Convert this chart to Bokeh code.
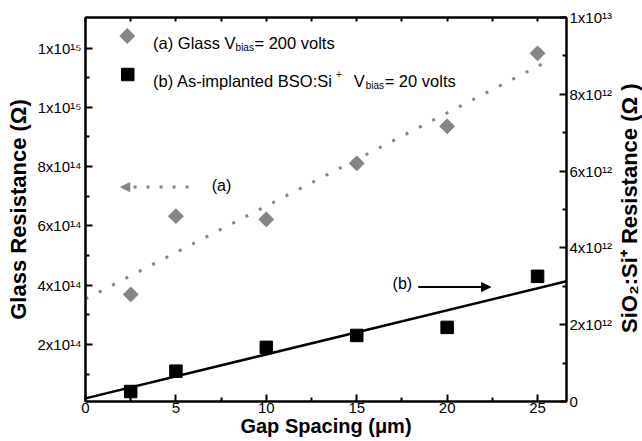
import numpy as np
from bokeh.plotting import figure
from bokeh.layouts import row
from bokeh.models import Range1d, LinearAxis, FixedTicker, Label, Arrow, NormalHead
from bokeh.embed import file_html
from bokeh.resources import INLINE

# ---------------- data ----------------
gap_um = [2.5, 5, 10, 15, 20, 25]
glass_res = [3.69e14, 6.33e14, 6.22e14, 8.11e14, 9.36e14, 1.182e15]
bso_res = [0.26e12, 0.79e12, 1.41e12, 1.72e12, 1.93e12, 3.26e12]

x_ticks = [0, 5, 10, 15, 20, 25]
x_minor = [2.5, 7.5, 12.5, 17.5, 22.5]
left_ticks = [2e14, 4e14, 6e14, 8e14, 1e15, 1.2e15]
left_minor = [1e14, 3e14, 5e14, 7e14, 9e14, 1.1e15]
left_labels = ["2x10¹⁴", "4x10¹⁴", "6x10¹⁴", "8x10¹⁴", "1x10¹⁵", "1x10¹⁵"]
right_ticks = [0, 2e12, 4e12, 6e12, 8e12, 1e13]
right_minor = [1e12, 3e12, 5e12, 7e12, 9e12]
right_labels = ["0", "2x10¹²", "4x10¹²", "6x10¹²", "8x10¹²", "1x10¹³"]

fit_a_span = [0, 25.6]
fit_b_span = [0, 26.6]

# frame geometry in canvas pixels (used only to place text/legend)
FL, FR, FT, FB = 85, 569, 17, 401
W, H = 615, 441          # main figure
W2 = 642 - W             # strip for the right-hand title

X0, X1 = 0, 26.6
YL0, YL1 = 7.8e12, 1.303e15
YR0, YR1 = 0, 1e13

def sx(px):
    return X0 + (px - FL) / (FR - FL) * (X1 - X0)

def sy(py):
    return YL0 + (FB - py) / (FB - FT) * (YL1 - YL0)

def r2l(v):
    return YL0 + (v - YR0) / (YR1 - YR0) * (YL1 - YL0)

GRAY = "#858585"
FONT = "Liberation Sans"

p = figure(width=W, height=H, x_range=Range1d(X0, X1), y_range=Range1d(YL0, YL1),
           output_backend="svg", toolbar_location=None,
           x_axis_type=None, y_axis_type=None,
           min_border_left=FL, min_border_right=W - FR,
           min_border_top=FT, min_border_bottom=H - FB)
p.extra_y_ranges = {"r": Range1d(YR0, YR1)}
p.outline_line_color = "black"
p.outline_line_width = 2
p.background_fill_color = "white"
p.border_fill_color = "white"

def style(ax, tick_in=7, minor_in=4, size="15px", standoff=5):
    ax.axis_line_width = 2
    ax.axis_line_color = "black"
    ax.major_tick_in = tick_in
    ax.major_tick_out = 0
    ax.minor_tick_in = minor_in
    ax.minor_tick_out = 0
    ax.major_tick_line_width = 2
    ax.minor_tick_line_width = 2
    ax.major_label_text_font = FONT
    ax.major_label_text_font_size = size
    ax.major_label_text_color = "black"
    ax.major_label_standoff = standoff

def title(ax, text, size, standoff):
    ax.axis_label = text
    ax.axis_label_text_font = FONT
    ax.axis_label_text_font_size = size
    ax.axis_label_text_font_style = "bold"
    ax.axis_label_text_color = "black"
    ax.axis_label_standoff = standoff

xb = LinearAxis(ticker=FixedTicker(ticks=x_ticks, minor_ticks=x_minor))
style(xb, standoff=1)
title(xb, "Gap Spacing (μm)", "20px", -1)
p.add_layout(xb, "below")

xt = LinearAxis(ticker=FixedTicker(ticks=x_ticks, minor_ticks=x_minor),
                major_label_overrides={t: "" for t in x_ticks})
style(xt, tick_in=4, minor_in=4, standoff=0)
p.add_layout(xt, "above")

yl = LinearAxis(ticker=FixedTicker(ticks=left_ticks, minor_ticks=left_minor),
                major_label_overrides=dict(zip(left_ticks, left_labels)))
style(yl, standoff=4)
title(yl, "Glass Resistance (Ω)", "22px", 4)
p.add_layout(yl, "left")

yr = LinearAxis(y_range_name="r", ticker=FixedTicker(ticks=right_ticks, minor_ticks=right_minor),
                major_label_overrides=dict(zip(right_ticks, right_labels)))
style(yr, standoff=3)
p.add_layout(yr, "right")

# fits (least squares on the data)
ka = np.polyfit(gap_um, glass_res, 1)
kb = np.polyfit(gap_um, bso_res, 1)
fa_x = np.array(fit_a_span, dtype=float)
fb_x = np.array(fit_b_span, dtype=float)

p.line(fa_x, np.polyval(ka, fa_x), line_color=GRAY, line_width=3, line_dash="3 12")
p.line(fb_x, np.polyval(kb, fb_x), y_range_name="r", line_color="black", line_width=2.5)

p.scatter(gap_um, glass_res, marker="square", angle=np.pi / 4, size=10.5,
          fill_color=GRAY, line_color=GRAY)
p.scatter(gap_um, bso_res, marker="square", size=12.5, y_range_name="r",
          fill_color="black", line_color="black")

# legend
p.scatter([sx(127)], [sy(35.5)], marker="square", angle=np.pi / 4, size=10.5,
          fill_color=GRAY, line_color=GRAY)
p.scatter([sx(127.5)], [sy(74)], marker="square", size=12.5,
          fill_color="black", line_color="black")

def lab(px, py, text, size="16.5px", align="left", baseline="alphabetic"):
    p.add_layout(Label(x=sx(px), y=sy(py), text=text, text_font=FONT, text_font_size=size,
                       text_align=align, text_baseline=baseline, text_color="black"))

# line 1
lab(153, 42.5, "(a) Glass V")
lab(236, 46.5, "bias", size="10px")
lab(255, 42.5, "= 200 volts")
# line 2
lab(153, 80.5, "(b) As-implanted BSO:Si")
lab(337, 73, "+", size="10px")
lab(355, 80.5, "V")
lab(367, 84.5, "bias", size="10px")
lab(386, 80.5, "= 20 volts")

# annotations (a) and (b)
arrow_a = dict(x_start=5.7, x_end=1.95, y=7.31e14)
arrow_b = dict(x_start=18.4, x_end=22.4, y=2.98e12)
p.add_layout(Arrow(end=NormalHead(size=9, fill_color=GRAY, line_color=GRAY),
                   x_start=arrow_a["x_start"], y_start=arrow_a["y"],
                   x_end=arrow_a["x_end"], y_end=arrow_a["y"],
                   line_color=GRAY, line_width=3, line_dash="3 10"))
p.add_layout(Arrow(end=NormalHead(size=9, fill_color="black", line_color="black"),
                   x_start=arrow_b["x_start"], y_start=r2l(arrow_b["y"]),
                   x_end=arrow_b["x_end"], y_end=r2l(arrow_b["y"]),
                   line_color="black", line_width=2))
lab(212, 185, "(a)", size="16px", baseline="middle")
lab(394, 283, "(b)", size="16px", baseline="middle")

# right-hand axis title, in a narrow strip next to the plot (reads bottom to top)
p2 = figure(width=W2, height=H, x_range=Range1d(0, W2), y_range=Range1d(0, H),
            output_backend="svg", toolbar_location=None,
            x_axis_type=None, y_axis_type=None,
            min_border_left=0, min_border_right=0, min_border_top=0, min_border_bottom=0)
p2.outline_line_color = None
p2.grid.visible = False
p2.background_fill_color = "white"
p2.border_fill_color = "white"
p2.add_layout(Label(x=628.5 - W, y=H - 219, text="SiO₂:Si⁺ Resistance (Ω )",
                    text_font=FONT, text_font_size="22px", text_font_style="bold",
                    text_align="center", text_baseline="middle", angle=np.pi / 2,
                    text_color="black"))

layout = row(p, p2, spacing=0)
open("out.html", "w").write(file_html(layout, INLINE))
